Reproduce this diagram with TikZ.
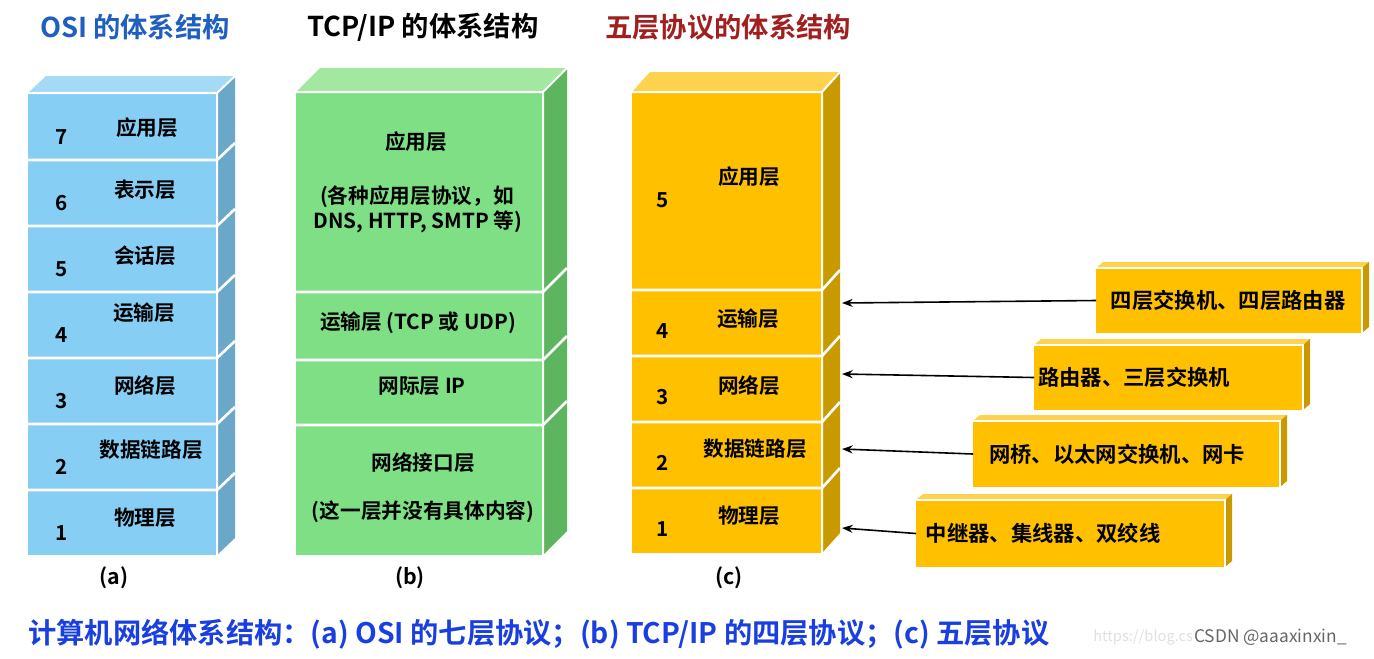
\documentclass[tikz,border=0pt]{standalone}
\usepackage{fontspec}
\setmainfont{Noto Sans CJK SC}[BoldFont={* Bold}]
\usetikzlibrary{arrows.meta}
\definecolor{bfront}{HTML}{87CEF5}\definecolor{bside}{HTML}{6BA7C8}\definecolor{btop}{HTML}{A4DAF6}
\definecolor{gfront}{HTML}{7EDF84}\definecolor{gside}{HTML}{5DB560}\definecolor{gtop}{HTML}{A2E8A0}
\definecolor{ofront}{HTML}{FFC000}\definecolor{oside}{HTML}{C99A00}\definecolor{otop}{HTML}{FFD24D}
\definecolor{tblue}{HTML}{1F5FBF}\definecolor{tred}{HTML}{A02020}\definecolor{capblue}{HTML}{1A3FE0}
\tikzset{lbl/.style={font=\bfseries\fontsize{15.5}{18}\selectfont,inner sep=0pt},
 ttl/.style={font=\bfseries\fontsize{20.5}{24}\selectfont,inner sep=0pt},
 conn/.style={-{Stealth[length=8pt,width=6pt]},line width=1.2pt}}
\begin{document}
\begin{tikzpicture}[x=0.75pt,y=-0.75pt]
\useasboundingbox (0,0) rectangle (1374,658);
\newcommand\stackbox[8]{%
 \fill[#8top] (#1,#3) -- (#1+#5,#3-#6) -- (#2+#5,#3-#6) -- (#2,#3) -- cycle;
 \fill[#8side] (#2,#3) -- (#2+#5,#3-#6) -- (#2+#5,#4-#6) -- (#2,#4) -- cycle;
 \fill[#8front] (#1,#3) rectangle (#2,#4);
 \draw[white,line width=1.5pt] (#1,#3) -- (#2,#3) -- (#2+#5,#3-#6) (#2,#3) -- (#2,#4);
 \foreach \yy in {#7}{\draw[white,line width=2pt] (#1,\yy) -- (#2,\yy) -- (#2+#5,\yy-#6);}
}
\stackbox{28}{217}{93}{555}{18}{17}{160,226,292,358,424,490}{b}
\stackbox{296}{543}{92}{555}{24}{24}{292,360,425}{g}
\stackbox{632}{822}{92}{553}{18}{20}{290,356,422,488}{o}
% OSI
\foreach \n/\y in {7/137,6/203,5/269,4/335,3/401,2/467,1/533}{\node[lbl] (on\n) at (62,\y) {\n};}
\node[lbl] (o7) at (147,128) {应用层};
\node[lbl] (o6) at (145,190) {表示层};
\node[lbl] (o5) at (145,256) {会话层};
\node[lbl] (o4) at (144,313) {运输层};
\node[lbl] (o3) at (145,386) {网络层};
\node[lbl] (o2) at (151,450) {数据链路层};
\node[lbl] (o1) at (145,518) {物理层};
% TCP/IP
\node[lbl] (t4) at (416,142) {应用层};
\node[lbl] (t4a) at (417,197) {(各种应用层协议，如};
\node[lbl] (t4b) at (418,222) {DNS, HTTP, SMTP 等)};
\node[lbl] (t3) at (418,323) {运输层 (TCP 或 UDP)};
\node[lbl] (t2) at (422,386) {网际层 IP};
\node[lbl] (t1) at (423,463) {网络接口层};
\node[lbl] (t1a) at (423,512) {(这一层并没有具体内容)};
% five
\node[lbl] (fn5) at (663,200) {5}; \node[lbl] (f5) at (749,177) {应用层};
\node[lbl] (fn4) at (663,331) {4}; \node[lbl] (f4) at (748,319) {运输层};
\node[lbl] (fn3) at (663,397) {3}; \node[lbl] (f3) at (749,386) {网络层};
\node[lbl] (fn2) at (663,463) {2}; \node[lbl] (f2) at (755,449) {数据链路层};
\node[lbl] (fn1) at (663,529) {1}; \node[lbl] (f1) at (749,516) {物理层};
\coordinate (a4) at (842,303); \coordinate (a3) at (842,374);
\coordinate (a2) at (842,449); \coordinate (a1) at (842,528);
\newcommand\devbox[7]{%
 \fill[otop] (#1,#3) -- (#1+7,#3-6) -- (#2+7,#3-6) -- (#2,#3) -- cycle;
 \fill[oside] (#2,#3) -- (#2+7,#3-6) -- (#2+7,#4-6) -- (#2,#4) -- cycle;
 \fill[ofront] (#1,#3) rectangle (#2,#4);
 \draw[white,line width=1pt] (#1,#3) -- (#2,#3) -- (#2,#4);
 \node[lbl,font=\bfseries\fontsize{16}{18}\selectfont] (#5) at (#7,{(#3+#4)/2}) {#6};
 \coordinate (#5w) at (#1,{(#3+#4)/2});
}
\devbox{1096}{1362}{268}{333}{d4}{四层交换机、四层路由器}{1228}
\devbox{1034}{1303}{345}{410}{d3}{路由器、三层交换机}{1134}
\devbox{973}{1280}{421}{487}{d2}{网桥、以太网交换机、网卡}{1117}
\devbox{916}{1225}{500}{567}{d1}{中继器、集线器、双绞线}{1043}
\draw[conn] (d4w) -- (a4);
\draw[conn] (d3w) -- (a3);
\draw[conn] (d2w) -- (a2);
\draw[conn] (d1w) -- (a1);
\node[lbl,font=\bfseries\fontsize{16}{18}\selectfont] (ca) at (114,578) {(a)};
\node[lbl,font=\bfseries\fontsize{16}{18}\selectfont] (cb) at (410,578) {(b)};
\node[lbl,font=\bfseries\fontsize{16}{18}\selectfont] (cc) at (729,578) {(c)};
\node[ttl,text=tblue] (T1) at (135,27) {OSI 的体系结构};
\node[ttl] (T2) at (423,27) {TCP/IP 的体系结构};
\node[ttl,text=tred] (T3) at (728,27) {五层协议的体系结构};
\node[ttl,text=capblue,anchor=west,font=\bfseries\fontsize{21.2}{25}\selectfont] (cap) at (28,634) {计算机网络体系结构：(a) OSI 的七层协议；(b) TCP/IP 的四层协议；(c) 五层协议};
\node[inner sep=0pt,anchor=west,text=black!12,font=\fontsize{11}{13}\selectfont] (wm1) at (1093,637) {https://blog.cs};
\node[inner sep=0pt,anchor=west,text=black!60,font=\fontsize{13}{15}\selectfont] (wm2) at (1194,637) {CSDN @aaaxinxin\_};
\end{tikzpicture}
\end{document}
